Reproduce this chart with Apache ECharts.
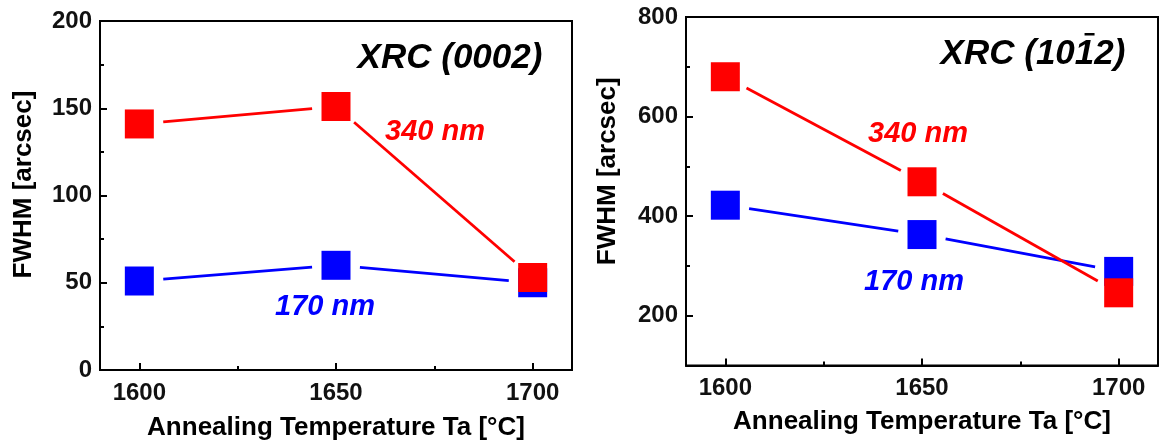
<!DOCTYPE html>
<html><head><meta charset="utf-8">
<script src="https://cdn.jsdelivr.net/npm/echarts@6/dist/echarts.min.js"></script>
<style>html,body{margin:0;padding:0;background:#fff}#c{width:1159px;height:447px}</style>
</head><body><div id="c"></div>
<script>
// ---- data ----
const temps = [1600, 1650, 1700];
const left340 = [141, 151, 53];
const left170 = [51, 60, 50];
const right340 = [680, 469, 246];
const right170 = [422, 363, 289];
// ---- ticks ----
const xMajorTicks = [1600, 1650, 1700];
const xMinorTicks = [1625, 1675];
const leftYMajor = [0, 50, 100, 150, 200];
const leftYMinor = [25, 75, 125, 175];
const rightYMajor = [200, 400, 600, 800];
const rightYMinor = [300, 500, 700];

const RED = '#ff0000', BLUE = '#0000ff';
const FONT = '"Liberation Sans", Arial, sans-serif';
const GAP = 24;

function gapLine(xs, ys, color, ai) {
  return {
    type: 'custom', xAxisIndex: ai, yAxisIndex: ai, z: 2, silent: true,
    data: xs.map((x, i) => [x, ys[i]]),
    renderItem(params, api) {
      const i = params.dataIndex;
      if (i === 0) return null;
      const a = api.coord([xs[i - 1], ys[i - 1]]);
      const b = api.coord([xs[i], ys[i]]);
      const dx = b[0] - a[0], dy = b[1] - a[1], L = Math.hypot(dx, dy);
      const ux = dx / L, uy = dy / L;
      return {
        type: 'line',
        shape: { x1: a[0] + ux * GAP, y1: a[1] + uy * GAP, x2: b[0] - ux * GAP, y2: b[1] - uy * GAP },
        style: { stroke: color, lineWidth: 2.8 }
      };
    }
  };
}
function squares(xs, ys, color, ai) {
  return {
    type: 'scatter', xAxisIndex: ai, yAxisIndex: ai, z: 3, silent: true,
    symbol: 'rect', symbolSize: [29, 29],
    itemStyle: { color: color, opacity: 1 },
    data: xs.map((x, i) => [x, ys[i]])
  };
}
const fmt = v => String(v);
const axisLineStyle = { show: true, onZero: false, lineStyle: { color: '#000', width: 2 } };
function mainX(g, nameGap) {
  return {
    type: 'value', gridIndex: g, position: 'bottom', min: 1590, max: 1710,
    axisLine: axisLineStyle,
    axisTick: { show: true, inside: true, length: 7, customValues: xMajorTicks, lineStyle: { color: '#000', width: 2 } },
    axisLabel: { customValues: xMajorTicks, formatter: fmt, color: '#111', fontSize: 24, fontWeight: 'bold', fontFamily: FONT, margin: 11 },
    splitLine: { show: false },
    name: 'Annealing Temperature Ta [°C]', nameLocation: 'middle', nameGap: nameGap,
    nameTextStyle: { color: '#000', fontSize: 26, fontWeight: 'bold', fontFamily: FONT }
  };
}
function minorX(g) {
  return {
    type: 'value', gridIndex: g, position: 'bottom', min: 1590, max: 1710,
    axisLine: { show: false }, axisLabel: { show: false }, splitLine: { show: false },
    axisTick: { show: true, inside: true, length: 4, customValues: xMinorTicks, lineStyle: { color: '#000', width: 2 } }
  };
}
function mainY(g, min, max, major, nameGap, pad) {
  return {
    type: 'value', gridIndex: g, position: 'left', min: min, max: max,
    axisLine: axisLineStyle,
    axisTick: { show: true, inside: true, length: 7, customValues: major, lineStyle: { color: '#000', width: 2 } },
    axisLabel: { customValues: major, formatter: fmt, color: '#111', fontSize: 24, fontWeight: 'bold', fontFamily: FONT, margin: 8 },
    splitLine: { show: false },
    name: 'FWHM [arcsec]', nameLocation: 'middle', nameGap: nameGap,
    nameTextStyle: { color: '#000', fontSize: 26, fontWeight: 'bold', fontFamily: FONT, padding: [0, 0, 0, pad] }
  };
}
function minorY(g, min, max, minor) {
  return {
    type: 'value', gridIndex: g, position: 'left', min: min, max: max,
    axisLine: { show: false }, axisLabel: { show: false }, splitLine: { show: false },
    axisTick: { show: true, inside: true, length: 4, customValues: minor, lineStyle: { color: '#000', width: 2 } }
  };
}
function label(text, x, y, color, size, align) {
  return {
    type: 'text', x: x, y: y, z: 10,
    style: { text: text, fill: color, font: 'italic bold ' + size + 'px ' + FONT, align: align || 'center', verticalAlign: 'middle' }
  };
}

// right title "XRC (10 1̄ 2)" with the overline over the second "1"
const TITLE_FONT = 'italic bold 35px ' + FONT;
const ctx = document.createElement('canvas').getContext('2d');
ctx.font = TITLE_FONT;
const rTitle = 'XRC (1012)';
const rTitleW = ctx.measureText(rTitle).width;
const rTitleLeft = 1033 - rTitleW / 2;
const preW = ctx.measureText('XRC (10').width;
const oneW = ctx.measureText('1').width;
const barCx = rTitleLeft + preW + oneW / 2 + 5;

const chart = echarts.init(document.getElementById('c'), null, { renderer: 'canvas' });
chart.setOption({
  backgroundColor: '#fff',
  animation: false,
  grid: [
    { left: 100, top: 21, width: 472, height: 349, show: true, borderColor: '#000', borderWidth: 2, containLabel: false },
    { left: 686, top: 17, right: 1, height: 348.5, show: true, borderColor: '#000', borderWidth: 2, containLabel: false }
  ],
  xAxis: [mainX(0, 45), minorX(0), mainX(1, 43), minorX(1)],
  yAxis: [mainY(0, 0, 200, leftYMajor, 63, 22), minorY(0, 0, 200, leftYMinor),
          mainY(1, 100, 800, rightYMajor, 65, 40), minorY(1, 100, 800, rightYMinor)],
  series: [
    gapLine(temps, left170, BLUE, 0), gapLine(temps, left340, RED, 0),
    squares(temps, left170, BLUE, 0), squares(temps, left340, RED, 0),
    gapLine(temps, right170, BLUE, 2), gapLine(temps, right340, RED, 2),
    squares(temps, right170, BLUE, 2), squares(temps, right340, RED, 2)
  ],
  graphic: [
    label('XRC (0002)', 450, 58, '#000', 35),
    label(rTitle, rTitleLeft, 54, '#000', 35, 'left'),
    { type: 'rect', z: 10, shape: { x: barCx - 5, y: 33, width: 10, height: 2.5 }, style: { fill: '#000' } },
    label('340 nm', 435, 131.5, RED, 29),
    label('170 nm', 325, 307, BLUE, 29),
    label('340 nm', 918, 133.6, RED, 29),
    label('170 nm', 914, 282, BLUE, 29)
  ]
});
</script></body></html>
